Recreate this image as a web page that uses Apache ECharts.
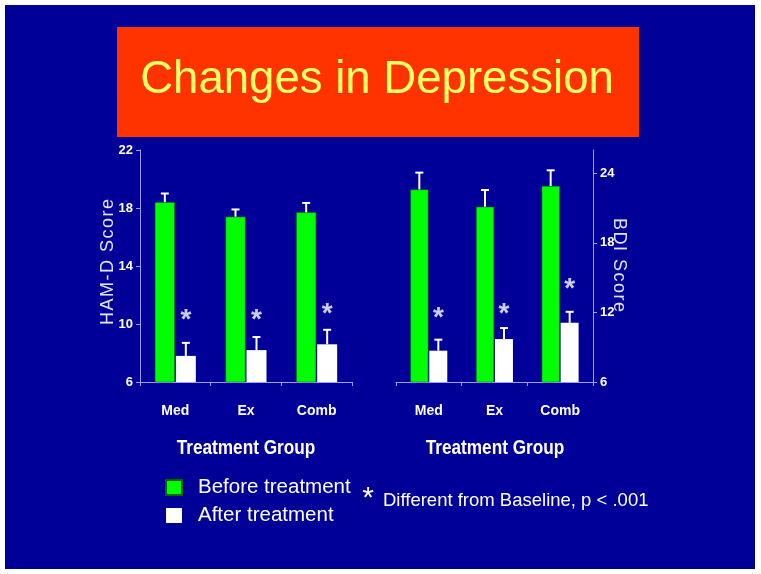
<!DOCTYPE html>
<html><head><meta charset="utf-8">
<script src="https://cdn.jsdelivr.net/npm/echarts@6/dist/echarts.min.js"></script>
<style>html,body{margin:0;padding:0;background:#fff}#c{width:761px;height:574px}</style>
</head><body><div id="c"></div>
<script>
// ---- data ----
const categories = ['Med', 'Ex', 'Comb'];
const hamBefore = [18.4, 17.4, 17.7];
const hamBeforeErr = [0.6, 0.5, 0.65];
const hamAfter = [7.8, 8.2, 8.6];
const hamAfterErr = [0.9, 0.9, 1.0];
const hamStars = [10.6, 10.6, 11.0];
const bdiBefore = [22.6, 21.1, 22.9];
const bdiBeforeErr = [1.45, 1.45, 1.35];
const bdiAfter = [8.7, 9.7, 11.1];
const bdiAfterErr = [0.95, 0.95, 0.95];
const bdiStars = [11.9, 12.3, 14.4];
const seriesNames = ['Before treatment', 'After treatment'];
const titleText = 'Changes in Depression';
const xName = 'Treatment Group';
const hamName = 'HAM-D Score';
const bdiName = 'BDI Score';
const footnote = 'Different from Baseline, p < .001';

// ---- styles ----
const BG = '#000099';
const GREEN = '#00ff00';
const AXIS = '#9d9dff';
const SANS = "'Liberation Sans',Arial,sans-serif";
const HS = '\u200A';
const spaced = s => s.split('').join(HS);

const chart = echarts.init(document.getElementById('c'), null, {renderer: 'canvas'});

function errSeries(xi, vals, errs, side, bw) {
  return {
    type: 'custom', xAxisIndex: xi, yAxisIndex: xi, z: 5, silent: true,
    data: vals.map((v, i) => [i, v, errs[i]]),
    renderItem: function (params, api) {
      const base = api.coord([api.value(0), api.value(1)]);
      const top = api.coord([api.value(0), api.value(1) + api.value(2)]);
      const x = base[0] + side * (bw / 2 + 0.5);
      return {
        type: 'group',
        children: [
          {type: 'line', shape: {x1: x, y1: base[1], x2: x, y2: top[1]}, style: {stroke: '#fff', lineWidth: 2}},
          {type: 'line', shape: {x1: x - 4, y1: top[1], x2: x + 4, y2: top[1]}, style: {stroke: '#fff', lineWidth: 2}}
        ]
      };
    }
  };
}
function starSeries(xi, vals, bw) {
  return {
    type: 'scatter', xAxisIndex: xi, yAxisIndex: xi, symbolSize: 0, silent: true, z: 6,
    data: vals.map((v, i) => [i, v]),
    label: {show: true, formatter: '*', color: '#fff', fontSize: 28, fontWeight: 'bold', fontFamily: SANS,
      offset: [bw / 2 + 0.5, 5], position: 'inside'}
  };
}
function xAx(gi) {
  return {
    type: 'category', gridIndex: gi, data: categories,
    axisLine: {lineStyle: {color: AXIS, width: 1}},
    axisTick: {show: true, length: 4, lineStyle: {color: AXIS}},
    axisLabel: {color: '#fff', fontSize: 14, fontWeight: 'bold', fontFamily: SANS, margin: 22}
  };
}
function xNameText(cx) {
  return {type: 'text', z: 10, x: cx, y: 448, scaleX: 0.82,
    style: {text: xName, fill: '#fff', font: 'bold 21px ' + SANS, align: 'center', verticalAlign: 'middle'}};
}

const option = {
  backgroundColor: '#fff',
  animation: false,
  graphic: [
    {type: 'rect', z: -10, shape: {x: 5, y: 5, width: 750, height: 564}, style: {fill: BG}},
    {type: 'rect', z: -9, shape: {x: 117, y: 27, width: 522, height: 110}, style: {fill: '#ff3300'}},
    {type: 'text', z: 10, x: 377, y: 80.5, scaleX: 0.98, style: {text: titleText, fill: '#ffff66', font: '46.5px ' + SANS, align: 'center', verticalAlign: 'middle'}},
    {type: 'text', z: 10, x: 108.5, y: 262, rotation: Math.PI / 2, style: {text: spaced(hamName), fill: '#e4e4ff', font: '18px ' + SANS, align: 'center', verticalAlign: 'middle'}},
    {type: 'text', z: 10, x: 619, y: 265, rotation: -Math.PI / 2, style: {text: spaced(bdiName), fill: '#e4e4ff', font: '18px ' + SANS, align: 'center', verticalAlign: 'middle'}},
    xNameText(246),
    xNameText(495),
    {type: 'text', z: 10, x: 368, y: 499, style: {text: '*', fill: '#fff', font: '30px ' + SANS, align: 'center', verticalAlign: 'middle'}},
    {type: 'text', z: 10, x: 383, y: 501, style: {text: footnote, fill: '#fff', font: '18.5px ' + SANS, align: 'left', verticalAlign: 'middle'}}
  ],
  legend: {
    data: seriesNames, orient: 'vertical', left: 160, top: 472, itemGap: 7,
    itemWidth: 16, itemHeight: 15, icon: 'rect',
    textStyle: {color: '#fff', fontSize: 20.5, fontFamily: SANS, padding: [0, 0, 0, 11]}
  },
  grid: [
    {left: 140, top: 150, width: 212, height: 232},
    {left: 396, top: 150, width: 197, height: 232}
  ],
  xAxis: [xAx(0), xAx(1)],
  yAxis: [
    {type: 'value', gridIndex: 0, min: 6, max: 22, interval: 4, position: 'left',
      axisLine: {show: true, lineStyle: {color: AXIS}}, axisTick: {show: true, length: 4, lineStyle: {color: AXIS}},
      splitLine: {show: false},
      axisLabel: {color: '#fff', fontSize: 13, fontWeight: 'bold', fontFamily: SANS, margin: 7}},
    {type: 'value', gridIndex: 1, min: 6, max: 26, interval: 6, position: 'right',
      axisLine: {show: true, lineStyle: {color: AXIS}}, axisTick: {show: true, length: 4, lineStyle: {color: AXIS}},
      splitLine: {show: false},
      axisLabel: {color: '#fff', fontSize: 13, fontWeight: 'bold', fontFamily: SANS, margin: 7, showMaxLabel: false,
        formatter: v => (v === 26 ? '' : v)}}
  ],
  series: [
    {name: seriesNames[0], type: 'bar', xAxisIndex: 0, yAxisIndex: 0, data: hamBefore, barWidth: 20, barGap: '5%',
      itemStyle: {color: GREEN, borderColor: '#006600', borderWidth: 0.5}},
    {name: seriesNames[1], type: 'bar', xAxisIndex: 0, yAxisIndex: 0, data: hamAfter, barWidth: 20, barGap: '5%',
      itemStyle: {color: '#fff'}},
    {name: seriesNames[0], type: 'bar', xAxisIndex: 1, yAxisIndex: 1, data: bdiBefore, barWidth: 18, barGap: '5%',
      itemStyle: {color: GREEN, borderColor: '#006600', borderWidth: 0.5}},
    {name: seriesNames[1], type: 'bar', xAxisIndex: 1, yAxisIndex: 1, data: bdiAfter, barWidth: 18, barGap: '5%',
      itemStyle: {color: '#fff'}},
    errSeries(0, hamBefore, hamBeforeErr, -1, 20),
    errSeries(0, hamAfter, hamAfterErr, 1, 20),
    errSeries(1, bdiBefore, bdiBeforeErr, -1, 18),
    errSeries(1, bdiAfter, bdiAfterErr, 1, 18),
    starSeries(0, hamStars, 20),
    starSeries(1, bdiStars, 18)
  ]
};
chart.setOption(option);
</script>
</body></html>
